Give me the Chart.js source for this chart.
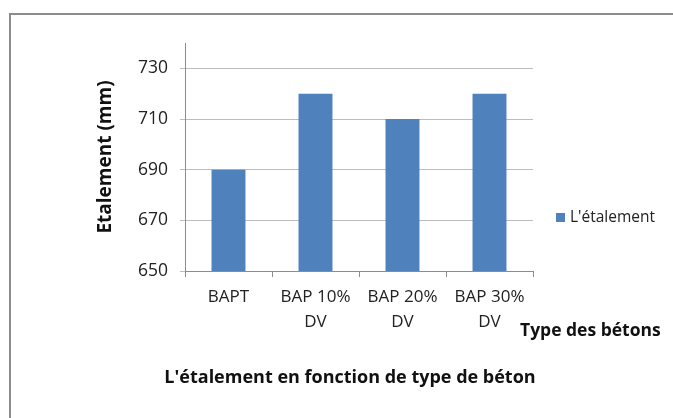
<!DOCTYPE html>
<html>
<head>
<meta charset="utf-8">
<script src="https://cdn.jsdelivr.net/npm/chart.js@4"></script>
<style>
  html, body { margin: 0; padding: 0; background: #fff; }
  #wrap { width: 673px; height: 418px; position: relative; }
</style>
</head>
<body>
<div id="wrap"><canvas id="chart" width="673" height="418"></canvas></div>
<script>
// données
const categories = ["BAPT", ["BAP 10%", "DV"], ["BAP 20%", "DV"], ["BAP 30%", "DV"]];
const etalement = [690, 720, 710, 720];
const yTicks = [650, 670, 690, 710, 730];
const seriesName = "L'étalement";
const chartTitle = "L'étalement en fonction de type de béton";
const xTitle = "Type des bétons";
const yTitle = "Etalement (mm)";

const FONT = "'Open Sans', 'Liberation Sans', sans-serif";
const BLUE = "#4F81BD";

// cadre, légende, titres dessinés à la main
const extras = {
    id: "extras",
    afterDraw(chart) {
        const ctx = chart.ctx;
        ctx.save();
        // cadre extérieur
        ctx.strokeStyle = "#8c8c8c";
        ctx.lineWidth = 2;
        ctx.beginPath();
        ctx.moveTo(10, 430);
        ctx.lineTo(10, 14);
        ctx.lineTo(690, 14);
        ctx.stroke();

        // légende
        ctx.fillStyle = BLUE;
        ctx.fillRect(556, 213, 9, 9);
        ctx.fillStyle = "#222";
        ctx.font = "15.5px " + FONT;
        ctx.textBaseline = "middle";
        ctx.textAlign = "left";
        ctx.fillText(seriesName, 570, 218);

        // titre de l'axe x
        ctx.fillStyle = "#111";
        ctx.font = "bold 17.5px " + FONT;
        ctx.fillText(xTitle, 520, 331);

        // titre du graphique
        ctx.textAlign = "center";
        ctx.font = "bold 18px " + FONT;
        ctx.fillText(chartTitle, 350, 378);
        ctx.restore();
    }
};

function createChart() {
    const ctx = document.getElementById("chart").getContext("2d");
    window.etalementChart = new Chart(ctx, {
        type: "bar",
        data: {
            labels: categories,
            datasets: [{
                label: seriesName,
                data: etalement,
                backgroundColor: BLUE,
                borderWidth: 0,
                categoryPercentage: 1,
                barPercentage: 0.39
            }]
        },
        options: {
            responsive: false,
            animation: false,
            layout: { padding: { left: 0, top: 43, right: 140, bottom: 87 } },
            plugins: {
                legend: { display: false },
                tooltip: { enabled: false }
            },
            scales: {
                x: {
                    grid: {
                        offset: true,
                        drawOnChartArea: false,
                        tickLength: 6,
                        color: "#8c8c8c"
                    },
                    border: { color: "#8c8c8c" },
                    ticks: {
                        color: "#222",
                        font: { family: FONT, size: 17, lineHeight: 1.47 },
                        maxRotation: 0,
                        autoSkip: false,
                        padding: 8
                    },
                    afterFit(scale) { scale.height = 60; }
                },
                y: {
                    min: 650,
                    max: 740,
                    afterBuildTicks(scale) {
                        scale.ticks = yTicks.map(v => ({ value: v }));
                    },
                    grid: {
                        color: "#bdbdbd",
                        tickLength: 5
                    },
                    border: { color: "#8c8c8c" },
                    ticks: {
                        color: "#222",
                        font: { family: FONT, size: 17.5 },
                        padding: 12
                    },
                    title: {
                        display: true,
                        text: yTitle,
                        color: "#111",
                        font: { family: FONT, size: 19, weight: "bold" },
                        padding: { top: 94, bottom: 0 }
                    },
                    afterFit(scale) { scale.width = 185; }
                }
            }
        },
        plugins: [extras]
    });
}

document.addEventListener("DOMContentLoaded", () => {
    createChart();
});
</script>
</body>
</html>
